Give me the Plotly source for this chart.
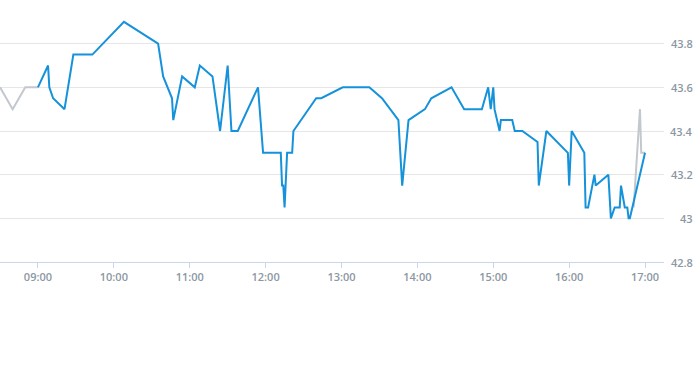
import plotly.graph_objects as go

DAY = "2024-01-02 "

blue_times = ["09:00", "09:08", "09:09", "09:12", "09:21", "09:28", "09:43", "10:08", "10:35",
              "10:39", "10:46", "10:47", "10:54", "11:04", "11:08", "11:18", "11:24", "11:30",
              "11:33", "11:38", "11:54", "11:58", "12:12", "12:13", "12:14", "12:15", "12:17",
              "12:21", "12:22", "12:40", "12:44", "13:01", "13:22", "13:32", "13:45", "13:48",
              "13:53", "14:06", "14:11", "14:27", "14:37", "14:51", "14:56", "14:58", "15:00",
              "15:01", "15:05", "15:06", "15:15", "15:17", "15:23", "15:35", "15:36", "15:42",
              "15:59", "16:00", "16:02", "16:12", "16:13", "16:15", "16:20", "16:21", "16:31",
              "16:33", "16:36", "16:40", "16:41", "16:44", "16:46", "16:47", "16:48", "17:00"]
blue_values = [43.6, 43.7, 43.6, 43.55, 43.5, 43.75, 43.75, 43.9, 43.8,
               43.65, 43.55, 43.45, 43.65, 43.6, 43.7, 43.65, 43.4, 43.7,
               43.4, 43.4, 43.6, 43.3, 43.3, 43.15, 43.15, 43.05, 43.3,
               43.3, 43.4, 43.55, 43.55, 43.6, 43.6, 43.55, 43.45, 43.15,
               43.45, 43.5, 43.55, 43.6, 43.5, 43.5, 43.6, 43.5, 43.6,
               43.5, 43.4, 43.45, 43.45, 43.4, 43.4, 43.35, 43.15, 43.4,
               43.3, 43.15, 43.4, 43.3, 43.05, 43.05, 43.2, 43.15, 43.2,
               43.0, 43.05, 43.05, 43.15, 43.05, 43.05, 43.0, 43.0, 43.3]

gray_times = ["08:30", "08:40", "08:50", "09:00", "12:00", "16:51", "16:56", "16:57", "17:00"]
gray_values = [43.6, 43.5, 43.6, 43.6, None, 43.05, 43.5, 43.3, 43.3]

y_ticks = [42.8, 43.0, 43.2, 43.4, 43.6, 43.8]
y_ticktext = ["42.8", "43", "43.2", "43.4", "43.6", "43.8"]
x_ticks = ["09:00", "10:00", "11:00", "12:00", "13:00", "14:00", "15:00", "16:00", "17:00"]
x_range = ["08:30", "17:15"]
y_range = [42.8, 44.0]

TICK_COLOR = "#8c97a2"
FONT = dict(family="Open Sans", size=11, color=TICK_COLOR, weight=600)

fig = go.Figure()
fig.add_trace(go.Scatter(
    x=[DAY + t for t in gray_times], y=gray_values, mode="lines",
    line=dict(color="#c3c8ce", width=2), connectgaps=False, hoverinfo="skip"))
fig.add_trace(go.Scatter(
    x=[DAY + t for t in blue_times], y=blue_values, mode="lines",
    line=dict(color="#1592da", width=2), hoverinfo="skip"))

fig.update_layout(
    width=695, height=370,
    margin=dict(l=0, r=31, t=0, b=108),
    paper_bgcolor="white", plot_bgcolor="white",
    showlegend=False,
    font=FONT,
    xaxis=dict(
        type="date",
        range=[DAY + x_range[0], DAY + x_range[1]],
        tickvals=[DAY + t for t in x_ticks],
        ticktext=x_ticks,
        showgrid=False, zeroline=False,
        showline=True, linecolor="#ccd6eb", linewidth=1,
        ticks="outside", ticklen=5, tickcolor="#ccd6eb",
        tickfont=FONT,
    ),
    yaxis=dict(
        range=y_range,
        tickvals=y_ticks,
        showticklabels=False,
        showgrid=True, gridcolor="#e6e6e6", gridwidth=1,
        zeroline=False, showline=False, ticks="",
        side="right",
    ),
)

for v, txt in zip(y_ticks, y_ticktext):
    fig.add_annotation(
        xref="paper", yref="y", x=1.0, y=v, xshift=31, text=txt,
        showarrow=False, xanchor="right", yanchor="middle", font=FONT)

fig.write_html("out.html")
